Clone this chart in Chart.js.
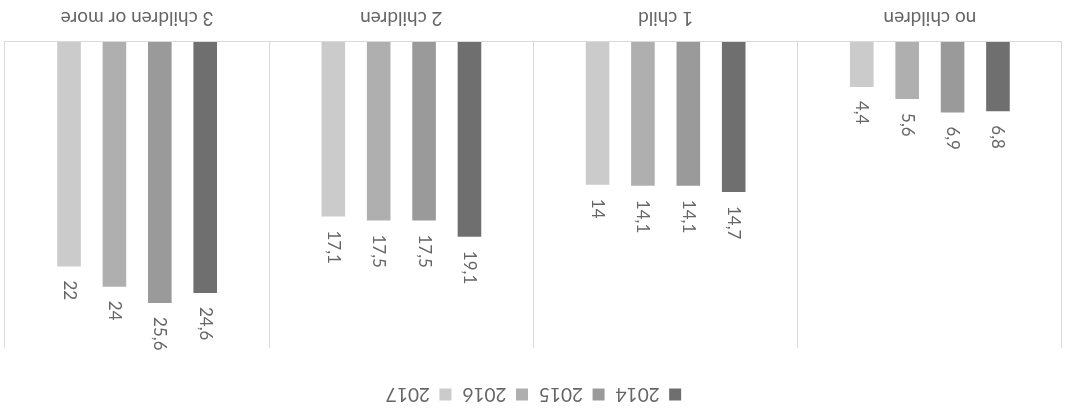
<!DOCTYPE html>
<html>
<head>
<meta charset="utf-8">
<script src="https://cdn.jsdelivr.net/npm/chart.js@4.4.1/dist/chart.umd.min.js"></script>
<style>
  html, body { margin: 0; padding: 0; background: #ffffff; }
  #wrap { width: 1067px; height: 410px; transform: rotate(180deg); transform-origin: 50% 50%; }
  canvas { display: block; }
</style>
</head>
<body>
<div id="wrap"><canvas id="c" width="1067" height="410"></canvas></div>
<script>
const categories = ["no children", "1 child", "2 children", "3 children or more"];
const seriesNames = ["2014", "2015", "2016", "2017"];
const values2014 = [6.8, 14.7, 19.1, 24.6];
const values2015 = [6.9, 14.1, 17.5, 25.6];
const values2016 = [5.6, 14.1, 17.5, 24];
const values2017 = [4.4, 14, 17.1, 22];
const seriesColors = ["#6f6f6f", "#9a9a9a", "#afafaf", "#cbcbcb"];

const seriesValues = [values2014, values2015, values2016, values2017];
const FONT = "Lato";
const TEXT = "#666666";

const dataLabels = {
  id: "dataLabels",
  afterDatasetsDraw(chart) {
    const ctx = chart.ctx;
    ctx.save();
    ctx.font = "17px " + FONT;
    ctx.fillStyle = TEXT;
    ctx.textAlign = "left";
    ctx.textBaseline = "middle";
    chart.data.datasets.forEach((ds, i) => {
      const meta = chart.getDatasetMeta(i);
      meta.data.forEach((el, j) => {
        const txt = String(ds.data[j]).replace(".", ",");
        ctx.save();
        ctx.translate(el.x, el.y - 14);
        ctx.rotate(-Math.PI / 2);
        ctx.fillText(txt, 0, 0);
        ctx.restore();
      });
    });
    ctx.restore();
  }
};

const legendSpacing = {
  id: "legendSpacing",
  beforeInit(chart) {
    const origFit = chart.legend.fit;
    chart.legend.fit = function () {
      origFit.call(this);
      this.height = 67;
    };
  }
};

new Chart(document.getElementById("c"), {
  type: "bar",
  data: {
    labels: categories,
    datasets: seriesNames.map((name, i) => ({
      label: name,
      data: seriesValues[i],
      backgroundColor: seriesColors[i],
      borderWidth: 0,
      categoryPercentage: 0.687,
      barPercentage: 0.52
    }))
  },
  options: {
    responsive: false,
    animation: false,
    devicePixelRatio: 1,
    layout: { padding: { top: -5, left: 5, right: 5, bottom: 0 } },
    plugins: {
      legend: {
        position: "top",
        labels: {
          boxWidth: 12,
          boxHeight: 12,
          padding: 11,
          color: TEXT,
          font: { family: FONT, size: 19 }
        }
      },
      tooltip: { enabled: false }
    },
    scales: {
      x: {
        offset: true,
        grid: { display: true, offset: true, color: "#d9d9d9", lineWidth: 1, drawTicks: false },
        border: { display: true, color: "#d9d9d9", width: 1 },
        ticks: { color: TEXT, font: { family: FONT, size: 19 }, padding: 12, maxRotation: 0 },
        afterFit(scale) { scale.height = 42; }
      },
      y: {
        display: false,
        min: 0,
        max: 30
      }
    }
  },
  plugins: [dataLabels, legendSpacing]
});
</script>
</body>
</html>
